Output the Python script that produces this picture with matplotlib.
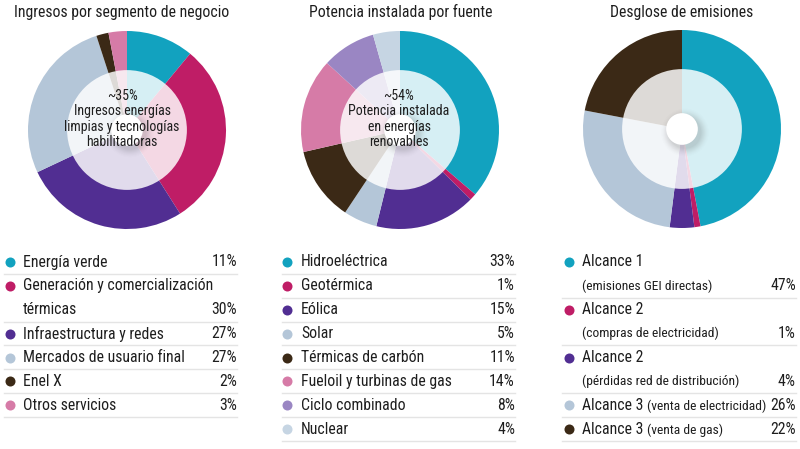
import matplotlib
matplotlib.use("Agg")
import matplotlib.pyplot as plt
from matplotlib import font_manager as fm
from matplotlib.patches import Circle
import numpy as np

# ---------------- data ----------------
titles = ["Ingresos por segmento de negocio", "Potencia instalada por fuente", "Desglose de emisiones"]

labels1 = ["Energía verde", "Generación y comercialización\ntérmicas", "Infraestructura y redes",
           "Mercados de usuario final", "Enel X", "Otros servicios"]
values1 = [11, 30, 27, 27, 2, 3]

labels2 = ["Hidroeléctrica", "Geotérmica", "Eólica", "Solar", "Térmicas de carbón",
           "Fueloil y turbinas de gas", "Ciclo combinado", "Nuclear"]
values2 = [33, 1, 15, 5, 11, 14, 8, 4]

labels3_main = ["Alcance 1", "Alcance 2", "Alcance 2", "Alcance 3", "Alcance 3"]
labels3_sub = ["(emisiones GEI directas)", "(compras de electricidad)", "(pérdidas red de distribución)",
               "(venta de electricidad)", "(venta de gas)"]
labels3_sub_newline = [True, True, True, False, False]
values3 = [47, 1, 4, 26, 22]

center_texts = ["~35%\nIngresos energías\nlimpias y tecnologías\nhabilitadoras",
                "~54%\nPotencia instalada\nen energías\nrenovables",
                ""]

# ---------------- style ----------------
TEAL, MAG, PUR, GB, BRN, PNK, LAV, NUC = ("#12a2bf", "#bf1d66", "#512e92", "#b4c6d8",
                                         "#3b2916", "#d67ba7", "#9a86c3", "#c6d5e3")
colors1 = [TEAL, MAG, PUR, GB, BRN, PNK]
colors2 = [TEAL, MAG, PUR, GB, BRN, PNK, LAV, NUC]
colors3 = [TEAL, MAG, PUR, GB, BRN]

names = {f.name for f in fm.fontManager.ttflist}
fam = [f for f in ["Roboto Condensed", "Liberation Sans Narrow", "Roboto", "DejaVu Sans"] if f in names]
plt.rcParams["font.family"] = fam
TXT = "#1e1e1e"
FS = 11.3
FS_SMALL = 9.7
FS_CENTER = 10.0

W, H = 800, 449
fig = plt.figure(figsize=(W / 100, H / 100), dpi=100)

# overlay axes in pixel coordinates (on top of the donuts)
axL = fig.add_axes([0, 0, 1, 1])
axL.set_xlim(0, W)
axL.set_ylim(H, 0)
axL.axis("off")
axL.set_zorder(20)


def donut(cx, cy, R, values, colors, ctext, tx):
    ax = fig.add_axes([(cx - R) / W, 1 - (cy + R) / H, 2 * R / W, 2 * R / H])
    ax.set_zorder(1)
    ax.pie(values, colors=colors, radius=1, startangle=90, counterclock=False,
           wedgeprops=dict(linewidth=0))
    ax.add_patch(Circle((0, 0), 0.605, color="white", alpha=0.83, lw=0, zorder=3))
    for r, a in zip(np.linspace(0.24, 0.165, 8), np.linspace(0.012, 0.045, 8)):
        ax.add_patch(Circle((0.03, -0.035), r, color="#555555", alpha=a, lw=0, zorder=4))
    ax.add_patch(Circle((0, 0), 0.16, color="white", lw=0, zorder=5))
    ax.set_xlim(-1, 1)
    ax.set_ylim(-1, 1)
    ax.set_aspect("equal")
    ax.axis("off")
    if ctext:
        for i, ln in enumerate(ctext.split("\n")):
            axL.text(tx, 95.5 + i * 15.6, ln, ha="center", va="center", fontsize=FS_CENTER,
                     color=TXT, zorder=10)
    return ax


donut(127, 130, 99, values1, colors1, center_texts[0], 122)
donut(400, 130, 99, values2, colors2, center_texts[1], 399)
donut(682, 129, 99, values3, colors3, center_texts[2], 682)

for t, x in zip(titles, [122, 401, 682]):
    axL.text(x, 12, t, ha="center", va="center", fontsize=FS, color=TXT)

LINE = "#e4e4e4"
STEP = 23.9


def legend_simple(x_dot, x_txt, x_right, x_l0, labels, values, colors, y0):
    y = y0
    for lab, v, c in zip(labels, values, colors):
        lines = lab.split("\n")
        axL.scatter([x_dot], [y], s=52, color=c, lw=0)
        for i, ln in enumerate(lines):
            axL.text(x_txt, y + i * STEP, ln, ha="left", va="center", fontsize=FS, color=TXT)
        yl = y + (len(lines) - 1) * STEP
        axL.text(x_right, yl, f"{v}%", ha="right", va="center", fontsize=FS, color=TXT)
        axL.plot([x_l0, x_right], [yl + 11.8, yl + 11.8], color=LINE, lw=1)
        y = yl + STEP


legend_simple(10, 23, 237, 4, labels1, values1, colors1, 262)
legend_simple(287, 301, 515, 282, labels2, values2, colors2, 262)

# third legend with mixed font sizes
fig.canvas.draw()
renderer = fig.canvas.get_renderer()
y = 262
x_dot, x_txt, x_right, x_l0 = 569, 582, 796, 562
for main, sub, nl, v, c in zip(labels3_main, labels3_sub, labels3_sub_newline, values3, colors3):
    axL.scatter([x_dot], [y], s=52, color=c, lw=0)
    t = axL.text(x_txt, y, main, ha="left", va="center", fontsize=FS, color=TXT)
    if nl:
        y2 = y + STEP
        axL.text(x_txt, y2, sub, ha="left", va="center", fontsize=FS_SMALL, color=TXT)
    else:
        y2 = y
        bb = t.get_window_extent(renderer)
        axL.text(x_txt + bb.width + 4, y + 0.5, sub, ha="left", va="center", fontsize=FS_SMALL, color=TXT)
    axL.text(x_right, y2, f"{v}%", ha="right", va="center", fontsize=FS, color=TXT)
    axL.plot([x_l0, x_right], [y2 + 11.8, y2 + 11.8], color=LINE, lw=1)
    y = y2 + STEP

fig.savefig("out.png", dpi=100)
